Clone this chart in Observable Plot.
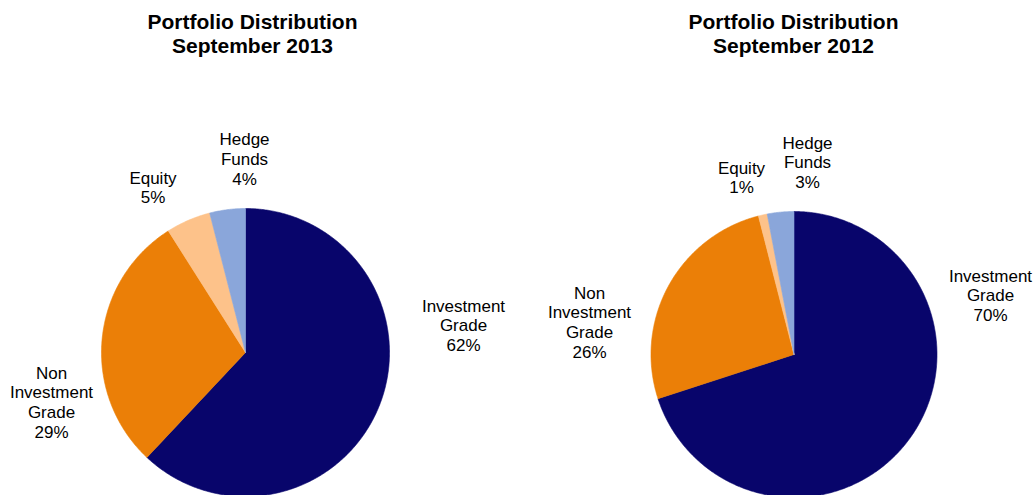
<!DOCTYPE html>
<html>
<head>
<meta charset="utf-8">
<script src="https://cdn.jsdelivr.net/npm/d3@7"></script>
<script src="https://cdn.jsdelivr.net/npm/@observablehq/plot@0.6"></script>
<style>
  html, body { margin: 0; padding: 0; background: #fff; }
  #chart { display: flex; width: 1036px; height: 495px; overflow: hidden; }
  #chart > div { width: 518px; height: 495px; }
</style>
</head>
<body>
<div id="chart"><div id="p0"></div><div id="p1"></div></div>
<script>
// ---- data ----
const categories = ["Investment Grade", "Non Investment Grade", "Equity", "Hedge Funds"];
const labelNames = ["Investment\nGrade", "Non\nInvestment\nGrade", "Equity", "Hedge\nFunds"];
const values2013 = [62, 29, 5, 4];
const values2012 = [70, 26, 1, 3];
const titles = ["Portfolio Distribution\nSeptember 2013", "Portfolio Distribution\nSeptember 2012"];
const colors = ["#08056B", "#EB7F07", "#FDC28A", "#8AA6DA"];

// ---- layout (pixels within each 518x495 panel) ----
const W = 518, H = 495;
const panels = [
  {values: values2013, title: titles[0], cx: 245, cy: 352, r: 144, titleX: 252,
   labelOffsets: [[218, -27.4], [-194, 49.5], [-92.5, -165.3], [-1, -193.7]]},
  {values: values2012, title: titles[1], cx: 275.5, cy: 354, r: 143, titleX: 275,
   labelOffsets: [[196.5, -59.4], [-204.5, -32.5], [-52.5, -177.3], [13.5, -192.4]]}
];

const font = "Liberation Sans, Arial, Helvetica, sans-serif";

function drawPanel(p, el) {
  const data = categories.map((c, i) => ({category: c, value: p.values[i], label: labelNames[i] + "\n" + p.values[i] + "%"}));
  const arcs = d3.pie().sort(null).value(d => d.value)(data);
  const pts = [];
  for (const a of arcs) {
    const cat = a.data.category;
    pts.push({category: cat, x: 0, y: 0});
    const n = Math.max(2, Math.ceil((a.endAngle - a.startAngle) / (Math.PI / 360)));
    for (let k = 0; k <= n; k++) {
      const t = a.startAngle + (a.endAngle - a.startAngle) * k / n;
      pts.push({category: cat, x: Math.sin(t), y: -Math.cos(t)});
    }
    pts.push({category: cat, x: 0, y: 0});
  }
  const labels = data.map((d, i) => ({
    label: d.label,
    x: p.labelOffsets[i][0] / p.r,
    y: p.labelOffsets[i][1] / p.r
  }));
  const titleData = [{text: p.title, x: (p.titleX - p.cx) / p.r}];
  const chart = Plot.plot({
    width: W, height: H,
    margin: 0,
    style: {fontFamily: font, background: "#fff", overflow: "visible"},
    x: {domain: [-p.cx / p.r, (W - p.cx) / p.r], axis: null},
    y: {domain: [(H - p.cy) / p.r, -p.cy / p.r], axis: null},
    color: {domain: categories, range: colors},
    marks: [
      Plot.line(pts, {x: "x", y: "y", z: "category", fill: "category", stroke: "category", strokeWidth: 0.6, curve: "linear"}),
      Plot.text(labels, {x: "x", y: "y", text: "label", fontSize: 17, lineHeight: 1.17, fill: "#000", fontFamily: font}),
      Plot.text(titleData, {x: "x", frameAnchor: "top", dy: 12.5, lineAnchor: "top", text: "text", fontSize: 21, fontWeight: "bold", lineHeight: 1.1, fill: "#000", fontFamily: font})
    ]
  });
  el.appendChild(chart);
}

drawPanel(panels[0], document.getElementById("p0"));
drawPanel(panels[1], document.getElementById("p1"));
</script>
</body>
</html>
